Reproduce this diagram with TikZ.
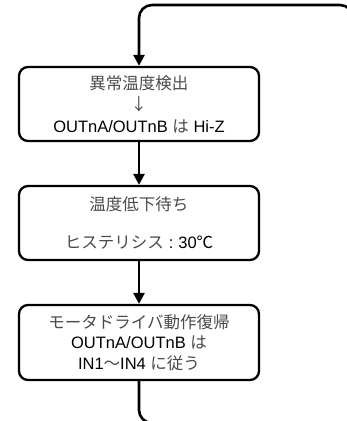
\documentclass[tikz,border=0pt]{standalone}
\usepackage{fontspec}
\setmainfont{Liberation Sans}
\newfontfamily\cjk{Noto Sans CJK JP}
\usetikzlibrary{arrows.meta}
\definecolor{cjkgray}{HTML}{4A4A4A}
\newcommand{\jp}[1]{{\cjk\color{cjkgray}#1}}
\begin{document}
\begin{tikzpicture}[x=1pt,y=-1pt,
  box/.style={draw=black, line width=2.3pt, rounded corners=9pt, minimum width=240pt,
    minimum height=74pt, align=center, inner sep=0pt,
    font=\fontsize{16.5}{21.5}\selectfont},
  conn/.style={draw=black, line width=2.6pt},
  arr/.style={conn, -{Triangle[length=11pt,width=11pt]}}]
\useasboundingbox (0,0) rectangle (347,421);
\node[box] (b1) at (139,104) {\jp{異常温度検出}\\ \jp{↓}\\ OUTnA/OUTnB \jp{は} Hi-Z};
\node[box] (b2) at (139,223) {\jp{温度低下待ち}\\[16.5pt] \jp{ヒステリシス}\hspace{5pt}:\hspace{5pt}30{\cjk ℃}};
\node[box, minimum height=75pt] (b3) at (139,342.5) {\jp{モータドライバ動作復帰}\\[-1pt] OUTnA/OUTnB \jp{は}\\[-1pt] IN1\jp{～}IN4 \jp{に従う}};
\coordinate (tstart) at (353,40);
\coordinate (tcorner) at (353,5);
\coordinate (bcorner) at (139,423);
\coordinate (bend) at (180,423);
\draw[arr, rounded corners=13pt] (tstart) -- (tcorner) -| (b1.north);
\draw[arr] (b1.south) -- (b2.north);
\draw[arr] (b2.south) -- (b3.north);
\draw[conn, rounded corners=13pt] (b3.south) -- (bcorner) -- (bend);
\end{tikzpicture}
\end{document}
